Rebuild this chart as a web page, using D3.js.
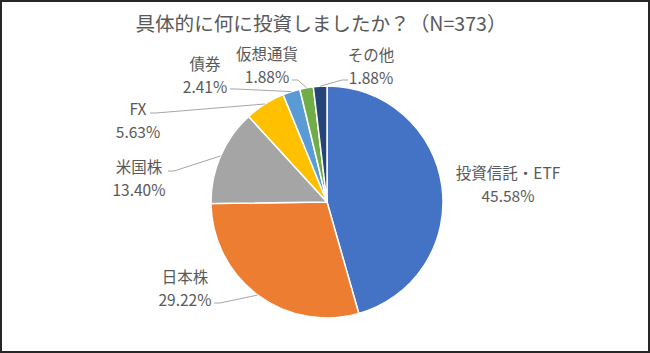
<!DOCTYPE html>
<html><head><meta charset="utf-8">
<script src="https://cdn.jsdelivr.net/npm/d3@7"></script>
<style>
html,body{margin:0;padding:0;background:#fff;}
svg{display:block;}
text{font-family:"Noto Sans CJK JP","Noto Sans",sans-serif;fill:#595959;}
</style></head>
<body>
<script>
// ---- data ----
const title = "具体的に何に投資しましたか？（N=373）";
const categories = ["投資信託・ETF","日本株","米国株","FX","債券","仮想通貨","その他"];
const values = [45.58, 29.22, 13.40, 5.63, 2.41, 1.88, 1.88];
const valueLabels = ["45.58%","29.22%","13.40%","5.63%","2.41%","1.88%","1.88%"];

// ---- style / layout (separate from data) ----
const colors = ["#4472C4","#ED7D31","#A5A5A5","#FFC000","#5B9BD5","#70AD47","#264478"];
const W = 650, H = 353, cx = 327, cy = 202, R = 116;
// label positions relative to pie centre: [centerX, firstBaseline], leader start or null
const labelLayout = [
  {x: 181, y: -23, lead: null},
  {x: -142, y: 81, lead: [-113, 101]},
  {x: -188, y: -29, lead: [-159, -31]},
  {x: -189, y: -87, lead: [-177, -89]},
  {x: -122, y: -132, lead: [-97, -113]},
  {x: -60, y: -142, lead: [-35, -122]},
  {x: 44, y: -141, lead: [21, -122]}
];

const svg = d3.select("body").append("svg").attr("width", W).attr("height", H);
svg.append("rect").attr("x",1).attr("y",1).attr("width",W-2).attr("height",H-2)
  .attr("fill","#fff").attr("stroke","#262626").attr("stroke-width",2);

svg.append("text").attr("x", 321).attr("y", 31).attr("text-anchor","middle")
  .style("font-size","19.6px").text(title);

const pie = d3.pie().sort(null).value(d => d)(values);
const arc = d3.arc().innerRadius(0).outerRadius(R);
const g = svg.append("g").attr("transform", `translate(${cx},${cy})`);

g.selectAll("path.slice").data(pie).join("path").attr("class","slice")
  .attr("d", arc).attr("fill", (d,i) => colors[i])
  .attr("stroke","#fff").attr("stroke-width",1.5).attr("stroke-linejoin","round");

// leader lines
pie.forEach((d,i) => {
  const L = labelLayout[i];
  if (!L.lead) return;
  const a = (d.startAngle + d.endAngle)/2;
  const px = R*Math.sin(a), py = -R*Math.cos(a);
  const [sx, sy] = L.lead;
  const dir = px > sx ? 1 : -1;
  const ex = sx + dir*6;
  g.append("polyline")
    .attr("points", `${sx},${sy} ${ex},${sy} ${px},${py}`)
    .attr("fill","none").attr("stroke","#A6A6A6").attr("stroke-width",1);
});

// labels
pie.forEach((d,i) => {
  const L = labelLayout[i];
  const t = g.append("text").attr("text-anchor","middle").style("font-size","15.5px");
  t.append("tspan").attr("x", L.x).attr("y", L.y).text(categories[i]);
  t.append("tspan").attr("x", L.x).attr("y", L.y + 22.5).text(valueLabels[i]);
});
</script>
</body></html>
